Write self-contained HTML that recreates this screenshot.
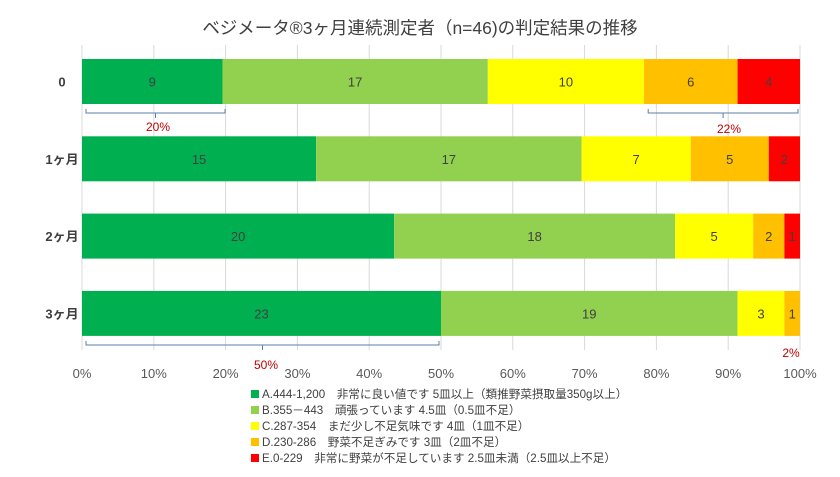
<!DOCTYPE html>
<html><head><meta charset="utf-8"><style>
body{margin:0;background:#fff;}
svg{display:block;font-family:"Liberation Sans","Noto Sans CJK JP",sans-serif;}
</style></head><body>
<svg id="chart" width="840" height="477">
<text x="420" y="34" text-anchor="middle" font-size="17.5" fill="#404040">ベジメータ®3ヶ月連続測定者（n=46)の判定結果の推移</text>
<g id="grid"></g><g id="bars"></g><g id="axis"></g><g id="notes"></g><g id="legend"></g>
</svg>
<script>
const categories=["0","1ヶ月","2ヶ月","3ヶ月"];
const seriesA=[9,15,20,23];
const seriesB=[17,17,18,19];
const seriesC=[10,7,5,3];
const seriesD=[6,5,2,1];
const seriesE=[4,2,1,0];
const ticks=[0,10,20,30,40,50,60,70,80,90,100];
const legendLabels=["A.444-1,200　非常に良い値です 5皿以上（類推野菜摂取量350g以上）","B.355－443　頑張っています 4.5皿（0.5皿不足）","C.287-354　まだ少し不足気味です 4皿（1皿不足）","D.230-286　野菜不足ぎみです 3皿（2皿不足）","E.0-229　非常に野菜が不足しています 2.5皿未満（2.5皿以上不足）"];
const colors=["#00b050","#92d050","#ffff00","#ffc000","#ff0000"];
const ns="http://www.w3.org/2000/svg";
const X0=82,X1=800;
const xs=p=>X0+(X1-X0)*p/100;
const rowY=i=>59+i*77.3;
const BH=45;
function mk(t,a,p){const e=document.createElementNS(ns,t);for(const k in a)e.setAttribute(k,a[k]);p.appendChild(e);return e;}
const grid=document.getElementById('grid'),axis=document.getElementById('axis');
ticks.forEach(t=>{
 const l=mk('line',{x1:xs(t),x2:xs(t),y1:45,y2:350,stroke:'#d9d9d9','stroke-width':1},grid);
 
 
 const tx=mk('text',{x:xs(t),y:378,'text-anchor':'middle','font-size':13,fill:'#595959'},axis);
 tx.textContent=t+'%';
 
 
});
const series=[seriesA,seriesB,seriesC,seriesD,seriesE];
const bars=document.getElementById('bars');
categories.forEach((c,i)=>{
 const total=series.reduce((s,a)=>s+a[i],0);
 let acc=0;const y=rowY(i);
 const lab=mk('text',{x:62,y:y+BH/2+5,'text-anchor':'middle','font-size':13,'font-weight':'bold',fill:'#404040'},axis);
 lab.textContent=c;
 
 
 series.forEach((s,k)=>{
  const v=s[i];if(!v)return;
  const x=xs(acc/total*100),w=xs((acc+v)/total*100)-x;
  const r=mk('rect',{x:x,y:y,width:w,height:BH,fill:colors[k]},bars);
  
  
  const t=mk('text',{x:x+w/2,y:y+BH/2+5,'text-anchor':'middle','font-size':13,fill:'#404040'},bars);
  t.textContent=v;
  
  
  acc+=v;
 });
});
const notes=document.getElementById('notes');
function bracket(p0,p1,y,label,lx,ly){
 const x0=xs(p0)+4,x1=xs(p1)-2,m=(x0+x1)/2;
 const pth=mk('path',{d:`M${x0} ${y-4}V${y}H${x1}V${y-4}M${m} ${y}V${y+5}`,stroke:'#5b7fa8',fill:'none','stroke-width':1},notes);
 
 
 const t=mk('text',{x:lx,y:ly,'text-anchor':'middle','font-size':12,fill:'#c00000'},notes);
 t.textContent=label;
 
 
}
bracket(0,20.2,113,'20%',158,131);
bracket(78.3,100,113,'22%',729,133);
bracket(0,50,345,'50%',266,369);
const t2=mk('text',{x:791,y:357,'text-anchor':'middle','font-size':12,fill:'#c00000'},notes);
t2.textContent='2%';


const lg=document.getElementById('legend');
legendLabels.forEach((s,k)=>{
 const y=398+k*16;
 const r=mk('rect',{x:251,y:y-8,width:8,height:8,fill:colors[k]},lg);
 
 
 const t=mk('text',{x:262,y:y,'font-size':11.6,fill:'#404040'},lg);
 t.textContent=s;
 
 
});
</script>
</body></html>
